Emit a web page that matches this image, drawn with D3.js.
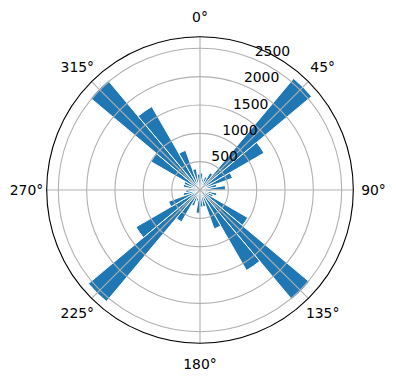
<!DOCTYPE html>
<html>
<head>
<meta charset="utf-8">
<script src="https://cdn.jsdelivr.net/npm/d3@7"></script>
<style>
html,body{margin:0;padding:0;background:#fff;}
svg{display:block;}
text{font-family:"DejaVu Sans",sans-serif;font-size:13.9px;fill:#000;}
</style>
</head>
<body>
<svg id="chart" width="396" height="380"></svg>
<script>
// bin centres (degrees, clockwise from north)
const binCenters = [5,15,25,35,45,55,65,75,85,95,105,115,125,135,145,155,165,175,
                    185,195,205,215,225,235,245,255,265,275,285,295,305,315,325,335,345,355];
// counts per bin
const counts = [300,200,250,350,2570,1305,610,300,450,200,300,250,975,2520,1640,730,300,300,
                410,200,300,650,2570,1305,590,300,250,200,300,300,1000,2520,1700,745,380,280];
const binWidthDeg = 10;
const rTicks = [500,1000,1500,2000,2500];
const thetaTicks = [0,45,90,135,180,225,270,315];
const rMax = 2705;

const svg = d3.select("#chart");
const cx = 200, cy = 190, R = 153.3;
const g = svg.append("g").attr("transform", `translate(${cx},${cy})`);

const r = d3.scaleLinear().domain([0, rMax]).range([0, R]);
const a = d3.scaleLinear().domain([0, 360]).range([0, 2 * Math.PI]);

const data = binCenters.map((c, i) => ({deg: c, v: counts[i]}));

const arc = d3.arc()
  .innerRadius(0)
  .outerRadius(d => r(d.v))
  .startAngle(d => a(d.deg - binWidthDeg / 2))
  .endAngle(d => a(d.deg + binWidthDeg / 2));

g.append("g").selectAll("path").data(data).join("path")
  .attr("d", arc)
  .attr("fill", "#1f77b4")
  .attr("stroke", "#ffffff")
  .attr("stroke-width", 1)
  .attr("stroke-linejoin", "miter");

// grid
const grid = g.append("g").attr("fill", "none").attr("stroke", "#b0b0b0").attr("stroke-width", 1.1);
grid.selectAll("circle").data(rTicks).join("circle").attr("r", d => r(d));
grid.selectAll("line").data(thetaTicks).join("line")
  .attr("x1", 0).attr("y1", 0)
  .attr("x2", d => R * Math.sin(a(d)))
  .attr("y2", d => -R * Math.cos(a(d)));

// spine
g.append("circle").attr("r", R).attr("fill", "none").attr("stroke", "#000").attr("stroke-width", 1.1);

// theta labels
const labR = R + 20.2;
g.append("g").selectAll("text").data(thetaTicks).join("text")
  .attr("x", d => labR * Math.sin(a(d)))
  .attr("y", d => -labR * Math.cos(a(d)))
  .attr("text-anchor", "middle")
  .attr("dominant-baseline", "central")
  .text(d => d + "°");

// radial labels at 22.5°
const rlab = a(22.5);
g.append("g").selectAll("text").data(rTicks).join("text")
  .attr("x", d => r(d) * Math.sin(rlab) + 0.5)
  .attr("y", d => -r(d) * Math.cos(rlab) - 2.8)
  .attr("text-anchor", "start")
  .text(d => d);
</script>
</body>
</html>
